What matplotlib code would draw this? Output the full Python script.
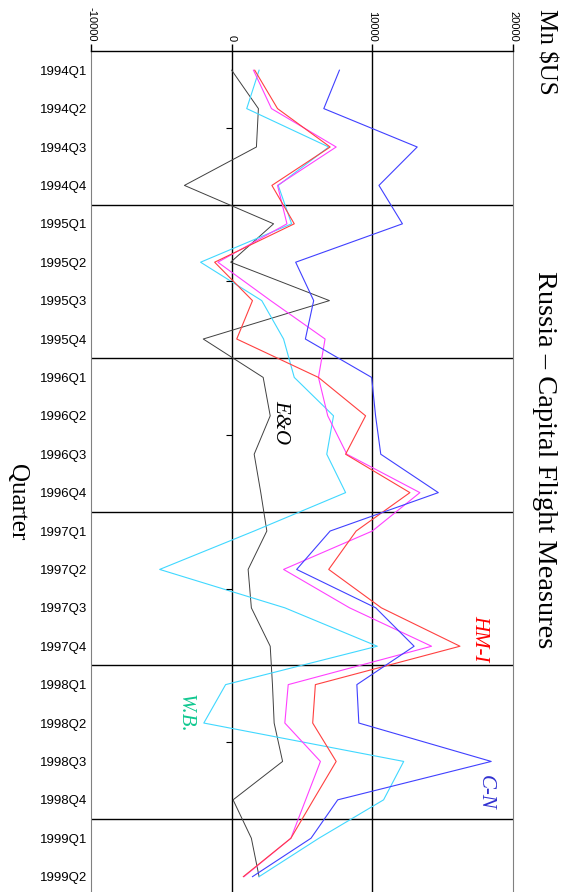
import matplotlib
matplotlib.use("Agg")
import matplotlib.pyplot as plt

quarters = ["1994Q1", "1994Q2", "1994Q3", "1994Q4",
            "1995Q1", "1995Q2", "1995Q3", "1995Q4",
            "1996Q1", "1996Q2", "1996Q3", "1996Q4",
            "1997Q1", "1997Q2", "1997Q3", "1997Q4",
            "1998Q1", "1998Q2", "1998Q3", "1998Q4",
            "1999Q1", "1999Q2"]

# Mn $US
e_and_o = [0, 1900, 1760, -3360, 2980, -70, 6950, -2020,
           2240, 2740, 1600, 2070, 2500, 1170, 1400, 2740,
           2900, 3020, 3620, 100, 1400, 1950]
world_bank = [1950, 1070, 6900, 3310, 4260, -2210, 2140, 3690,
              4450, 7240, 6760, 8100, 1600, -5120, 3780, 10350,
              -430, -1980, 12230, 10800, 6200, 1950]
hm_i = [1640, 3260, 7000, 2860, 4450, -1210, 1480, 360,
        6170, 9520, 8100, 12670, 8850, 6900, 10640, 16230,
        5950, 5760, 7430, 5810, 4210, 830]
magenta_series = [1550, 2830, 7430, 3260, 3930, -980, 2770, 6640,
                  6170, 6830, 8190, 13380, 10000, 3690, 8380, 14210,
                  4020, 3780, 6310, 5260, 4210, 880]
c_n = [7660, 6550, 13190, 10470, 12140, 4550, 5830, 5240,
       9950, 10230, 10600, 14690, 7000, 4620, 10240, 12970,
       8900, 9040, 18450, 7540, 5640, 1480]

x_ticks = [-10000, 0, 10000, 20000]
year_breaks = [3.5, 7.5, 11.5, 15.5, 19.5]
mid_year_ticks = [1.5, 5.5, 9.5, 13.5, 17.5]

fig = plt.figure(figsize=(5.62, 8.92), dpi=100)
ax = fig.add_axes([91 / 562, 0, 422 / 562, 1 - 51 / 892])

pos = list(range(len(quarters)))

# chart is drawn turned on its side: value across, quarter down
ax.plot(e_and_o, pos, color="#404040", lw=0.7)
ax.plot(world_bank, pos, color="#40d8ff", lw=0.8)
ax.plot(magenta_series, pos, color="#ff40ff", lw=0.8)
ax.plot(hm_i, pos, color="#ff4040", lw=0.8)
ax.plot(c_n, pos, color="#4040ff", lw=0.8)

ax.set_xlim(-10000, 20000)
ax.set_ylim(21.4, -0.5)

for x in [0, 10000]:
    ax.axvline(x, color="black", lw=1.0, zorder=0)
for y in year_breaks:
    ax.axhline(y, color="black", lw=1.0, zorder=0)
ax.plot([0] * len(mid_year_ticks), mid_year_ticks, ls="none", marker=0,
        color="black", ms=4, mew=0.8)

ax.xaxis.tick_top()
ax.set_xticks(x_ticks)
ax.set_xticklabels([str(v) for v in x_ticks], rotation=-90,
                   fontsize=8, family="Liberation Sans")
ax.tick_params(axis="x", direction="out", length=5, width=1, pad=2)
ax.set_yticks(pos)
ax.set_yticklabels(quarters, fontsize=9.5, family="Liberation Sans")
ax.tick_params(axis="y", length=0, pad=3)

ax.spines["bottom"].set_visible(False)
ax.spines["top"].set_linewidth(1.0)
ax.spines["left"].set_color("#808080")
ax.spines["right"].set_color("#808080")

serif = "Liberation Serif"
fig.text(545 / 562, 1 - 460 / 892, "Russia \u2013 Capital Flight Measures",
         rotation=-90, ha="center", va="center", fontsize=20.5, family=serif)
fig.text(546 / 562, 1 - 52 / 892, "Mn $US", rotation=-90, ha="center",
         va="center", fontsize=18, family=serif)
fig.text(17 / 562, 1 - 502 / 892, "Quarter", rotation=-90, ha="center",
         va="center", fontsize=18, family=serif)

ax.text(3470, 9.17, "E&O", rotation=-90, ha="center", va="center",
        fontsize=15, style="italic", family=serif, color="black")
ax.text(17650, 14.8, "HM-I", rotation=-90, ha="center", va="center",
        fontsize=15, style="italic", family=serif, color="#ff0000")
ax.text(18000, 18.8, "C-N", rotation=-90, ha="center", va="center",
        fontsize=15, style="italic", family=serif, color="#3030d0")
ax.text(-3330, 16.75, "W.B.", rotation=-90, ha="center", va="center",
        fontsize=15, style="italic", family=serif, color="#10c890")

fig.savefig("out.png", dpi=100)
